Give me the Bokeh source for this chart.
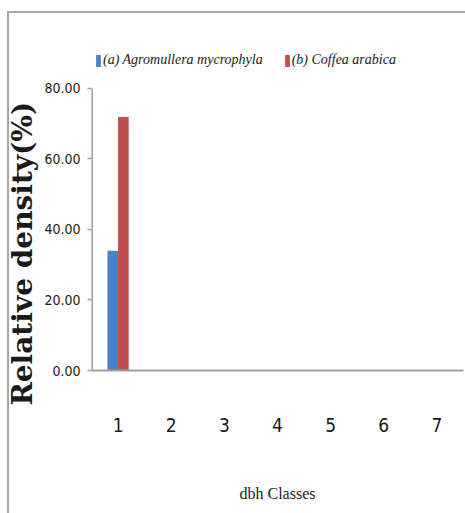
from bokeh.plotting import figure
from bokeh.models import FactorRange, FixedTicker, PrintfTickFormatter, Legend, LegendItem, ColumnDataSource, Title, Range1d
from bokeh.transform import dodge
from bokeh.embed import file_html
from bokeh.resources import INLINE

categories = ["1", "2", "3", "4", "5", "6", "7"]
agromullera = [34.0, 0, 0, 0, 0, 0, 0]
coffea = [71.9, 0, 0, 0, 0, 0, 0]
y_ticks = [0, 20, 40, 60, 80]
series_names = ["(a) Agromullera mycrophyla", "(b) Coffea arabica"]

src = ColumnDataSource(dict(cat=categories, a=agromullera, b=coffea))

frame_css = {
    "background-color": "white",
    "background-image": "linear-gradient(#a6a6a6,#a6a6a6), linear-gradient(#a6a6a6,#a6a6a6)",
    "background-size": "100% 2px, 2px 100%",
    "background-position": "8px 11px, 7px 11px",
    "background-repeat": "no-repeat",
}

p = figure(x_range=FactorRange(*categories, range_padding=0), y_range=Range1d(0, 93.6),
           width=465, height=513, output_backend="svg", toolbar_location=None,
           min_border_left=91, min_border_right=2, min_border_top=40, min_border_bottom=143,
           styles=frame_css)
p.border_fill_color = None

r1 = p.vbar(x=dodge("cat", -0.1, range=p.x_range), top="a", width=0.2, source=src,
            fill_color="#4F81BD", line_color=None)
r2 = p.vbar(x=dodge("cat", 0.1, range=p.x_range), top="b", width=0.2, source=src,
            fill_color="#C0504D", line_color=None)

p.xgrid.visible = False
p.ygrid.visible = False
p.outline_line_color = None

axis_color = "#a0a0a0"
# y axis line only spans the tick range (0 .. 80), as in the reference
p.segment(x0=0, y0=y_ticks[0], x1=0, y1=y_ticks[-1], line_color=axis_color, line_width=3)

p.yaxis.ticker = FixedTicker(ticks=y_ticks)
p.yaxis.formatter = PrintfTickFormatter(format="%.2f")
p.yaxis.minor_tick_line_color = None
p.yaxis.major_tick_out = 4
p.yaxis.major_tick_in = 0
p.yaxis.axis_line_color = None
p.yaxis.major_tick_line_color = axis_color
p.yaxis.major_tick_line_width = 1.5
p.yaxis.major_label_text_font = "DejaVu Sans Condensed"
p.yaxis.major_label_text_font_size = "14px"
p.yaxis.major_label_text_color = "#1a1a1a"
p.yaxis.major_label_standoff = 7

ytitle = Title(text="Relative density(%)", align="left", offset=-35, standoff=6,
               text_font="DejaVu Serif", text_font_style="bold", text_font_size="28px",
               text_color="#1a1a1a")
p.add_layout(ytitle, "left")

p.xaxis.axis_line_color = axis_color
p.xaxis.axis_line_width = 2
p.xaxis.major_tick_line_color = None
p.xaxis.major_tick_out = 0
p.xaxis.major_tick_in = 0
p.xaxis.major_label_text_font = "DejaVu Sans Condensed"
p.xaxis.major_label_text_font_size = "19px"
p.xaxis.major_label_text_color = "#1a1a1a"
p.xaxis.major_label_standoff = 47
p.xaxis.axis_label = "dbh Classes"
p.xaxis.axis_label_text_font = "Liberation Serif"
p.xaxis.axis_label_text_font_style = "normal"
p.xaxis.axis_label_text_font_size = "16px"
p.xaxis.axis_label_text_color = "#1a1a1a"
p.xaxis.axis_label_standoff = 50

legend = Legend(items=[LegendItem(label=series_names[0], renderers=[r1]),
                       LegendItem(label=series_names[1], renderers=[r2])],
                orientation="horizontal", location=(4, 302),
                glyph_width=6, glyph_height=15, label_standoff=2, spacing=21,
                padding=0, margin=0, border_line_color=None, background_fill_alpha=0,
                label_text_font="Liberation Serif", label_text_font_style="italic",
                label_text_font_size="14px", label_text_color="#1a1a1a")
p.add_layout(legend, "center")

open("out.html", "w").write(file_html(p, INLINE))
